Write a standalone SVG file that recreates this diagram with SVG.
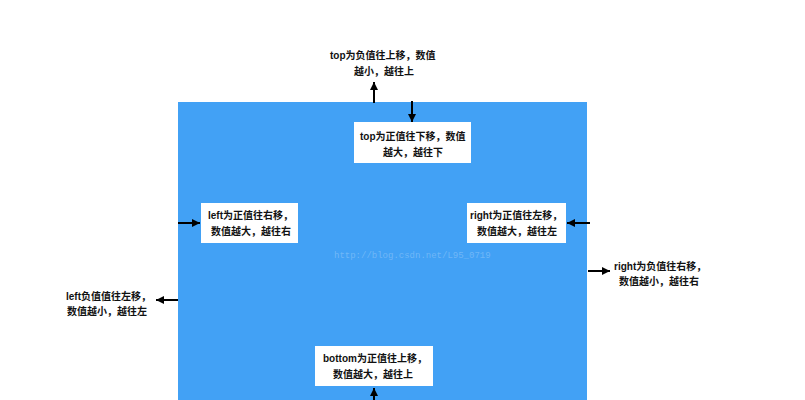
<svg xmlns="http://www.w3.org/2000/svg" width="805" height="400" viewBox="0 0 805 400">
<defs>
<style>
.t{font-family:"Liberation Sans","Noto Sans CJK SC",sans-serif;font-size:10px;font-weight:bold;fill:#111}
.box{fill:#fff}
.c{stroke:#000;stroke-width:2;fill:none;marker-end:url(#ah)}
.wm{font-family:"Liberation Mono",monospace;font-size:9px;fill:#fff;fill-opacity:0.25}
</style>
<marker id="ah" viewBox="0 0 10 10" refX="10" refY="5" markerWidth="4" markerHeight="4" orient="auto" markerUnits="strokeWidth">
<path d="M0,0 L10,5 L0,10 Z" fill="#000"/>
</marker>
</defs>
<rect width="805" height="400" fill="#fff"/>
<rect id="container" x="178" y="102" width="409" height="300" fill="#42A1F5"/>
<text class="wm" x="334" y="258">http://blog.csdn.net/L95_0719</text>

<g id="top-outside">
<text class="t" x="330" y="59">top为负值往上移，数值</text>
<text class="t" x="354" y="75">越小，越往上</text>
</g>
<g id="top-inside">
<rect class="box" x="354" y="122" width="117" height="41"/>
<text class="t" x="360" y="140">top为正值往下移，数值</text>
<text class="t" x="383" y="156">越大，越往下</text>
</g>
<g id="left-inside">
<rect class="box" x="201" y="203" width="97" height="40"/>
<text class="t" x="208" y="219">left为正值往右移，</text>
<text class="t" x="211" y="235">数值越大，越往右</text>
</g>
<g id="right-inside">
<rect class="box" x="467" y="203" width="99" height="40"/>
<text class="t" x="470" y="219">right为正值往左移，</text>
<text class="t" x="477" y="235">数值越大，越往左</text>
</g>
<g id="right-outside">
<text class="t" x="614" y="270">right为负值往右移，</text>
<text class="t" x="619" y="285">数值越小，越往右</text>
</g>
<g id="left-outside">
<text class="t" x="66" y="300">left负值值往左移，</text>
<text class="t" x="67" y="315">数值越小，越往左</text>
</g>
<g id="bottom-inside">
<rect class="box" x="315" y="346" width="118" height="40"/>
<text class="t" x="323" y="362">bottom为正值往上移，</text>
<text class="t" x="333" y="378">数值越大，越往上</text>
</g>

<g id="connectors">
<line class="c" x1="374" y1="103" x2="374" y2="82"/>
<line class="c" x1="412" y1="101" x2="412" y2="122"/>
<line class="c" x1="178" y1="223" x2="200" y2="223"/>
<line class="c" x1="590" y1="223" x2="567" y2="223"/>
<line class="c" x1="588" y1="271" x2="610" y2="271"/>
<line class="c" x1="178" y1="300" x2="156" y2="300"/>
<line class="c" x1="374" y1="400" x2="374" y2="388"/>
</g>
</svg>
